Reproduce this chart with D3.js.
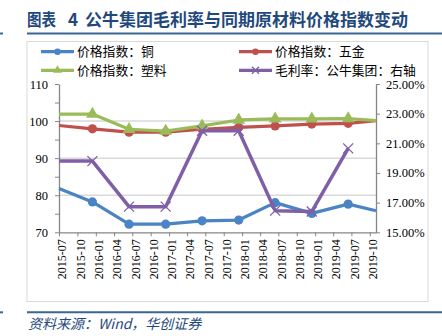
<!DOCTYPE html>
<html><head><meta charset="utf-8">
<script src="https://cdn.jsdelivr.net/npm/d3@7"></script>
<style>
html,body{margin:0;padding:0;background:#fff;}
svg{display:block;}
</style></head>
<body>
<svg id="c" width="442" height="336"></svg>
<script>
// ---- data ----
const tickLabels = ["2015-07","2015-10","2016-01","2016-04","2016-07","2016-10","2017-01","2017-04","2017-07","2017-10","2018-01","2018-04","2018-07","2018-10","2019-01","2019-04","2019-07","2019-10"];
const pointDates = ["2015-07-01","2015-12-15","2016-06-15","2016-12-15","2017-06-15","2017-12-15","2018-06-15","2018-12-15","2019-06-15","2019-11-01"];
const copper   = [81.8, 78.2, 72.2, 72.2, 73.1, 73.3, 78.0, 75.1, 77.6, 75.8];
const hardware = [98.8, 97.9, 97.0, 97.0, 97.8, 98.3, 98.7, 99.2, 99.4, 100.1];
const plastic  = [101.9, 101.9, 97.8, 97.3, 98.7, 100.3, 100.6, 100.6, 100.7, 100.1];
const margin   = [19.8, 19.8, 16.73, 16.73, 21.85, 21.85, 16.46, 16.4, 20.66, null];
const leftTicks = [70, 80, 90, 100, 110];
const rightTicks = [15, 17, 19, 21, 23, 25];
const seriesNames = ["价格指数：铜", "价格指数：五金", "价格指数：塑料", "毛利率：公牛集团：右轴"];
const xDomain = ["2015-07-01", "2019-11-01"];

const svg = d3.select("#c");
const parse = d3.timeParse("%Y-%m-%d");
const pm = d3.timeParse("%Y-%m");

const L = 59, R = 376, T = 84, B = 232.3;
const x = d3.scaleTime().domain(xDomain.map(parse)).range([L, R]);
const yL = d3.scaleLinear().domain([70, 110]).range([B, T]);
const yR = d3.scaleLinear().domain([15, 25]).range([B, T]);

const serifF = "'Liberation Serif','Times New Roman',serif";
const cjkF = "'Noto Sans CJK SC','Noto Sans CJK JP',sans-serif";

// title
const title = svg.append("text").attr("y", 26).attr("font-family", cjkF)
  .attr("font-size", 17).attr("font-weight", "bold").attr("fill", "#1f497d");
title.append("tspan").attr("x", 27).attr("textLength", 29).attr("lengthAdjust", "spacingAndGlyphs").text("图表");
title.append("tspan").attr("x", 68).text("4");
title.append("tspan").attr("x", 85).text("公牛集团毛利率与同期原材料价格指数变动");
svg.append("line").attr("x1", 27).attr("x2", 442).attr("y1", 33.5).attr("y2", 33.5).attr("stroke", "#3a6597").attr("stroke-width", 2);
svg.append("line").attr("x1", 0).attr("x2", 3).attr("y1", 33.5).attr("y2", 33.5).attr("stroke", "#3a6597").attr("stroke-width", 2);

// chart border
svg.append("rect").attr("x", 27).attr("y", 41.5).attr("width", 401).attr("height", 260)
  .attr("fill", "none").attr("stroke", "#d9d9d9").attr("stroke-width", 1);

// gridlines
svg.append("g").selectAll("line").data(leftTicks.filter(v => v > 70 && v < 110)).join("line")
  .attr("x1", L).attr("x2", R).attr("y1", d => yL(d)).attr("y2", d => yL(d))
  .attr("stroke", "#d9d9d9").attr("stroke-width", 1.5);

// axes
const axisColor = "#868686";
const gL = svg.append("g").attr("transform", `translate(${L},0)`)
  .call(d3.axisLeft(yL).tickValues(d3.range(70, 111, 5)).tickSize(4).tickSizeOuter(0)
    .tickFormat(d => leftTicks.includes(d) ? d : ""));
const gR = svg.append("g").attr("transform", `translate(${R},0)`)
  .call(d3.axisRight(yR).tickValues(rightTicks).tickSize(4).tickSizeOuter(0)
    .tickFormat(d => d.toFixed(2) + "%"));
const tickDates = tickLabels.map(pm);
const gB = svg.append("g").attr("transform", `translate(0,${B})`)
  .call(d3.axisBottom(x).tickValues(tickDates).tickSize(4).tickSizeOuter(0).tickFormat(""));
[gL, gR, gB].forEach(g => {
  g.select(".domain").attr("stroke", axisColor).attr("stroke-width", 1.3);
  g.selectAll(".tick line").attr("stroke", axisColor).attr("stroke-width", 1);
  g.selectAll("text").attr("font-family", serifF).attr("font-size", 12.5).attr("fill", "#000");
});
gL.selectAll("text").attr("x", -11);
gR.selectAll("text").attr("x", 10);

// x labels, centered in month slot
svg.append("g").selectAll("text").data(tickLabels).join("text")
  .attr("transform", d => {
    const s = pm(d), e = d3.timeMonth.offset(s, 1);
    const cx = (x(s) + x(e)) / 2;
    return `translate(${cx},${B + 7}) rotate(-90)`;
  })
  .attr("text-anchor", "end").attr("dy", "0.35em")
  .attr("font-family", serifF).attr("font-size", 12).text(d => d);

// series
const dates = pointDates.map(parse);
const d0 = x.domain()[0].getTime(), d1 = x.domain()[1].getTime();
function drawSeries(vals, yScale, color, width, marker) {
  const pts = vals.map((v, i) => ({d: dates[i], v}));
  const line = d3.line().defined(p => p.v != null).x(p => x(p.d)).y(p => yScale(p.v));
  svg.append("path").datum(pts).attr("d", line).attr("fill", "none")
    .attr("stroke", color).attr("stroke-width", width).attr("stroke-linejoin", "round");
  const inner = pts.filter(p => p.v != null && p.d.getTime() > d0 && p.d.getTime() < d1);
  const g = svg.append("g");
  inner.forEach(p => marker(g, x(p.d), yScale(p.v), color, 1));
}
function circ(g, cx, cy, color, s) {
  g.append("circle").attr("cx", cx).attr("cy", cy).attr("r", 4.6 * s).attr("fill", color);
}
function tri(g, cx, cy, color, s) {
  g.append("path").attr("transform", `translate(${cx},${cy})`)
    .attr("d", d3.symbol(d3.symbolTriangle, 70 * s * s)()).attr("fill", color);
}
function cross(g, cx, cy, color, s) {
  const r = 5 * s;
  g.append("path").attr("d", `M${cx - r},${cy - r}L${cx + r},${cy + r}M${cx - r},${cy + r}L${cx + r},${cy - r}`)
    .attr("stroke", color).attr("stroke-width", 1.3).attr("fill", "none");
}
const colors = ["#4a84c4", "#c0504d", "#9bbb59", "#7f5fa5"];
drawSeries(copper, yL, colors[0], 3.2, circ);
drawSeries(hardware, yL, colors[1], 3.2, circ);
drawSeries(plastic, yL, colors[2], 3.2, tri);
drawSeries(margin, yR, colors[3], 3.5, cross);

// legend
const legPos = [[41, 51.7], [239, 51.7], [41, 70.3], [239, 70.3]];
const legMarkers = [circ, circ, tri, cross];
seriesNames.forEach((n, i) => {
  const [lx, ly] = legPos[i];
  svg.append("line").attr("x1", lx).attr("x2", lx + 33).attr("y1", ly).attr("y2", ly)
    .attr("stroke", colors[i]).attr("stroke-width", 3.2);
  legMarkers[i](svg, lx + 16.5, ly, colors[i], 0.7);
  svg.append("text").attr("x", lx + 36).attr("y", ly).attr("dy", "0.36em")
    .attr("font-family", cjkF).attr("font-size", 12.8).attr("fill", "#000").text(n);
});

// footer
svg.append("line").attr("x1", 27).attr("x2", 442).attr("y1", 312.3).attr("y2", 312.3).attr("stroke", "#3a6597").attr("stroke-width", 2);
svg.append("line").attr("x1", 0).attr("x2", 3).attr("y1", 312.3).attr("y2", 312.3).attr("stroke", "#3a6597").attr("stroke-width", 2);
svg.append("text").attr("x", 28).attr("y", 329).attr("font-family", cjkF)
  .attr("font-size", 14).attr("font-style", "italic").attr("fill", "#1f497d")
  .text("资料来源：Wind，华创证券");
</script>
</body></html>
